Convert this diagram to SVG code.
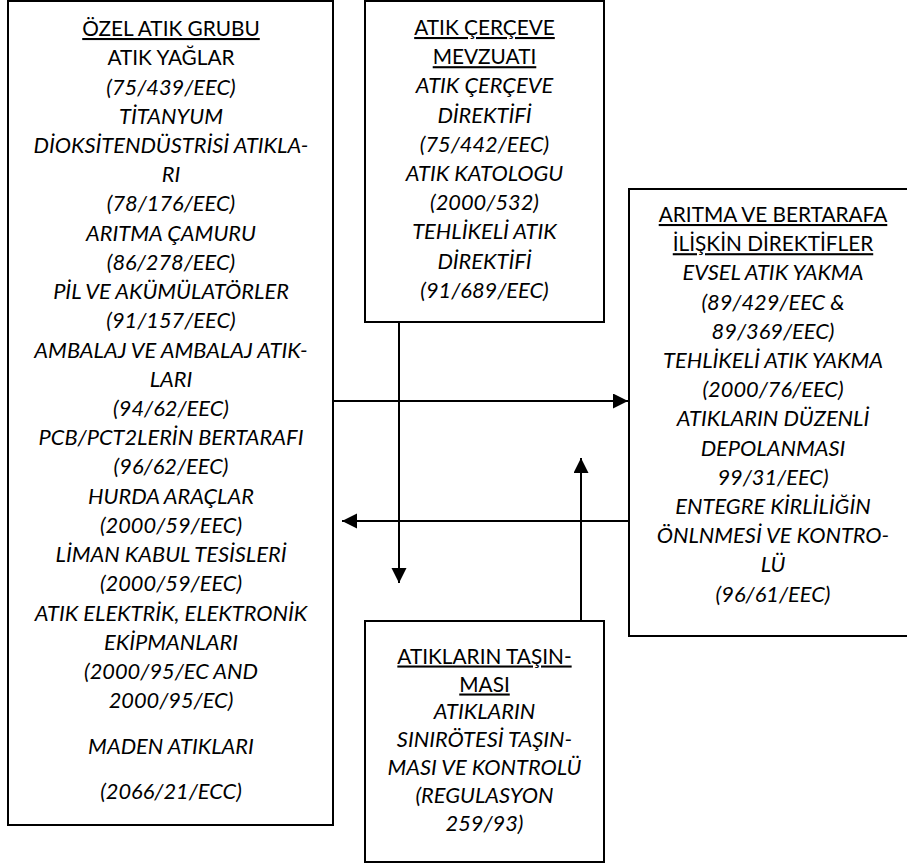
<svg xmlns="http://www.w3.org/2000/svg" width="907" height="865" viewBox="0 0 907 865">
<style>
.box{fill:#fff;stroke:#000;stroke-width:2}
text{font-family:Lato,"Liberation Sans",sans-serif;font-size:20.8px;fill:#000;text-anchor:middle}
.t{text-decoration:underline}
.i text{font-style:italic;font-size:21.8px}
.c{stroke:#000;stroke-width:2;fill:none}
</style>
<defs>
<marker id="ah" markerUnits="userSpaceOnUse" markerWidth="16" markerHeight="16" refX="15" refY="7.5" orient="auto">
<path d="M0,0 L15,7.5 L0,15 Z" fill="#000"/>
</marker>
</defs>
<rect width="907" height="865" fill="#fff"/>
<g id="ozel">
<rect class="box" x="8" y="1" width="325" height="824"/>
<text x="171" y="36" class="t">ÖZEL ATIK GRUBU</text>
<text x="171" y="65">ATIK YAĞLAR</text>
<g class="i">
<text x="171" y="94.5">(75/439/EEC)</text>
<text x="171" y="123.7">TİTANYUM</text>
<text x="171" y="152.9">DİOKSİTENDÜSTRİSİ ATIKLA-</text>
<text x="171" y="182.2">RI</text>
<text x="171" y="211.4">(78/176/EEC)</text>
<text x="171" y="240.6">ARITMA ÇAMURU</text>
<text x="171" y="269.8">(86/278/EEC)</text>
<text x="171" y="299.1">PİL VE AKÜMÜLATÖRLER</text>
<text x="171" y="328.3">(91/157/EEC)</text>
<text x="171" y="357.5">AMBALAJ VE AMBALAJ ATIK-</text>
<text x="171" y="386.8">LARI</text>
<text x="171" y="416">(94/62/EEC)</text>
<text x="171" y="445.2">PCB/PCT2LERİN BERTARAFI</text>
<text x="171" y="474.4">(96/62/EEC)</text>
<text x="171" y="503.7">HURDA ARAÇLAR</text>
<text x="171" y="532.9">(2000/59/EEC)</text>
<text x="171" y="562.1">LİMAN KABUL TESİSLERİ</text>
<text x="171" y="591.4">(2000/59/EEC)</text>
<text x="171" y="620.6">ATIK ELEKTRİK, ELEKTRONİK</text>
<text x="171" y="649.8">EKİPMANLARI</text>
<text x="171" y="679">(2000/95/EC AND</text>
<text x="171" y="708.3">2000/95/EC)</text>
<text x="171" y="753.5">MADEN ATIKLARI</text>
<text x="171" y="798.5">(2066/21/ECC)</text>
</g>
</g>
<g id="cerceve">
<rect class="box" x="365" y="1" width="239" height="321"/>
<text x="484.5" y="35" class="t">ATIK ÇERÇEVE</text>
<text x="484.5" y="64.2" class="t">MEVZUATI</text>
<g class="i">
<text x="484.5" y="93.4">ATIK ÇERÇEVE</text>
<text x="484.5" y="122.6">DİREKTİFİ</text>
<text x="484.5" y="151.8">(75/442/EEC)</text>
<text x="484.5" y="181">ATIK KATOLOGU</text>
<text x="484.5" y="210.2">(2000/532)</text>
<text x="484.5" y="239.4">TEHLİKELİ ATIK</text>
<text x="484.5" y="268.6">DİREKTİFİ</text>
<text x="484.5" y="297.8">(91/689/EEC)</text>
</g>
</g>
<g id="aritma">
<rect class="box" x="629" y="189" width="290" height="447"/>
<text x="773" y="222" class="t">ARITMA VE BERTARAFA</text>
<text x="773" y="251.2" class="t">İLİŞKİN DİREKTİFLER</text>
<g class="i">
<text x="773" y="280.4">EVSEL ATIK YAKMA</text>
<text x="773" y="309.6">(89/429/EEC &amp;</text>
<text x="773" y="338.8">89/369/EEC)</text>
<text x="773" y="368">TEHLİKELİ ATIK YAKMA</text>
<text x="773" y="397.2">(2000/76/EEC)</text>
<text x="773" y="426.4">ATIKLARIN DÜZENLİ</text>
<text x="773" y="455.6">DEPOLANMASI</text>
<text x="773" y="484.8">99/31/EEC)</text>
<text x="773" y="514">ENTEGRE KİRLİLİĞİN</text>
<text x="773" y="543.2">ÖNLNMESİ VE KONTRO-</text>
<text x="773" y="572.4">LÜ</text>
<text x="773" y="601.6">(96/61/EEC)</text>
</g>
</g>
<g id="tasinma">
<rect class="box" x="365" y="621" width="239" height="241"/>
<text x="484.5" y="663.5" class="t">ATIKLARIN TAŞIN-</text>
<text x="484.5" y="691.5" class="t">MASI</text>
<g class="i">
<text x="484.5" y="719.3">ATIKLARIN</text>
<text x="484.5" y="747.1">SINIRÖTESİ TAŞIN-</text>
<text x="484.5" y="774.9">MASI VE KONTROLÜ</text>
<text x="484.5" y="802.7">(REGULASYON</text>
<text x="484.5" y="830.5">259/93)</text>
</g>
</g>
<g id="connectors">
<line class="c" x1="333" y1="401" x2="628" y2="401" marker-end="url(#ah)"/>
<line class="c" x1="629" y1="521" x2="342" y2="521" marker-end="url(#ah)"/>
<line class="c" x1="399" y1="322" x2="399" y2="583" marker-end="url(#ah)"/>
<line class="c" x1="581" y1="621" x2="581" y2="458" marker-end="url(#ah)"/>
</g>
</svg>
